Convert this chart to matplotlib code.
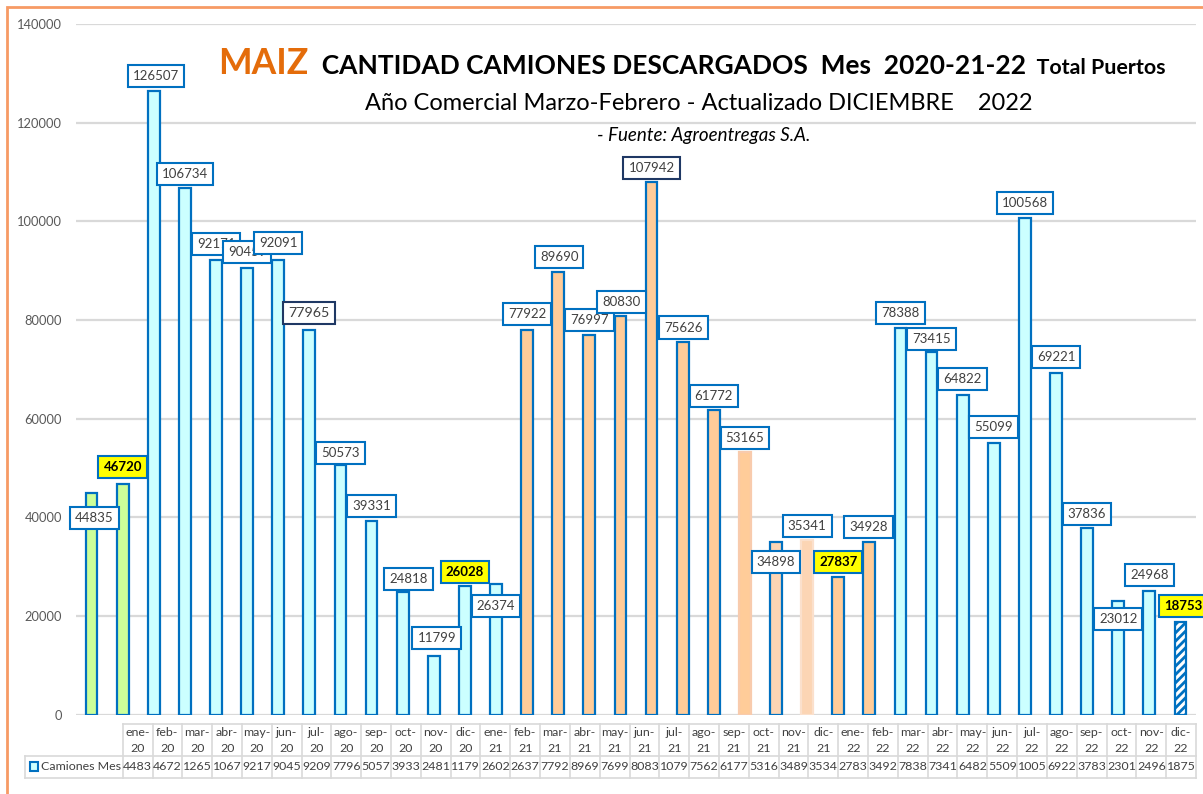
import matplotlib
matplotlib.use("Agg")
import matplotlib.pyplot as plt
from matplotlib.patches import Rectangle
from matplotlib.lines import Line2D
from matplotlib.offsetbox import TextArea, HPacker, AnnotationBbox

plt.rcParams['font.family'] = ['Lato', 'DejaVu Sans']
plt.rcParams['hatch.linewidth'] = 2.0

# ---------------- data ----------------
months = ["ene-20", "feb-20", "mar-20", "abr-20", "may-20", "jun-20", "jul-20", "ago-20", "sep-20",
          "oct-20", "nov-20", "dic-20", "ene-21", "feb-21", "mar-21", "abr-21", "may-21", "jun-21",
          "jul-21", "ago-21", "sep-21", "oct-21", "nov-21", "dic-21", "ene-22", "feb-22", "mar-22",
          "abr-22", "may-22", "jun-22", "jul-22", "ago-22", "sep-22", "oct-22", "nov-22", "dic-22"]
camiones = [44835, 46720, 126507, 106734, 92171, 90459, 92091, 77965, 50573, 39331, 24818, 11799,
            26028, 26374, 77922, 89690, 76997, 80830, 107942, 75626, 61772, 53165, 34898, 35341,
            27837, 34928, 78388, 73415, 64822, 55099, 100568, 69221, 37836, 23012, 24968, 18753]
# values shown in the data table (truncated as in the original)
table_vals = ["4483", "4672", "1265", "1067", "9217", "9045", "9209", "7796", "5057", "3933", "2481",
              "1179", "2602", "2637", "7792", "8969", "7699", "8083", "1079", "7562", "6177", "5316",
              "3489", "3534", "2783", "3492", "7838", "7341", "6482", "5509", "1005", "6922", "3783",
              "2301", "2496", "1875"]
series_name = "Camiones Mes"
yticks = [0, 20000, 40000, 60000, 80000, 100000, 120000, 140000]

# ---------------- styles ----------------
BLUE = '#0070C0'
CYAN = '#CCFFFF'
GREEN = '#CCFF99'
ORANGE = '#FFCC99'
LORANGE = '#FCD5B4'
fills = [GREEN, GREEN] + [CYAN] * 12 + [ORANGE] * 7 + [ORANGE, LORANGE, LORANGE, ORANGE, ORANGE] + [CYAN] * 9 + ['white']
edges = [BLUE] * 21 + ['#F8CBAD', BLUE, '#FBE0CC', BLUE, BLUE] + [BLUE] * 10
hatches = [None] * 35 + ['////']

# label offsets (pixels) relative to bar top
lab_dx = [3, 0, 2, 0, 0, 0, 0, 0, 0, 0, 6, 3, 0, 0, 0, 1, 0, 1, 0, 1, 0, 0, 0, 0, 0, -1, 0, 0, 0, 0, 0, 0, 0, 0, 0, 3]
lab_dy = [-25, 17, 15, 14, 16, 16, 17, 17, 12, 15, 13, 18, 14, -22, 16, 15, 15, 14, 14, 14, 14, 14, -20, 14, 15, 15,
          15, 13, 16, 16, 15, 16, 14, -18, 16, 16]
yellow_idx = {1, 12, 24, 35}
navy_idx = {7, 18}
big_idx = {7}

W, H = 1203, 794
fig = plt.figure(figsize=(W / 100, H / 100), dpi=100)
ax = fig.add_axes([76 / W, 1 - 714.5 / H, (1196 - 76) / W, (714.5 - 24) / H])

x = list(range(len(camiones)))
bars = ax.bar(x, camiones, width=0.38, color=fills, edgecolor=edges, linewidth=1.6, zorder=3)
for b, h in zip(bars, hatches):
    if h:
        b.set_hatch(h)

ax.set_xlim(-0.5, len(camiones) - 0.5)
ax.set_ylim(0, 140000)
ax.set_yticks(yticks)
ax.set_yticklabels([str(v) for v in yticks], fontsize=9.3, color='#595959')
ax.tick_params(axis='y', length=0, pad=10)
ax.set_xticks([])
for s in ax.spines.values():
    s.set_visible(False)
ax.grid(axis='y', color='#D9D9D9', linewidth=1.6, zorder=0)
ax.set_axisbelow(True)

for i, v in enumerate(camiones):
    if i in yellow_idx:
        fc, tc, fw = '#FFFF00', 'black', 'bold'
    else:
        fc, tc, fw = 'white', '#404040', 'normal'
    ec = '#1F3864' if i in navy_idx else BLUE
    fs = 10.3 if i in big_idx else 9.5
    ax.annotate(str(v), xy=(i, v), xytext=(lab_dx[i], lab_dy[i]), textcoords='offset pixels',
                ha='center', va='center', fontsize=fs, color=tc, fontweight=fw, zorder=5,
                bbox=dict(boxstyle='square,pad=0.38', fc=fc, ec=ec, lw=1.5))

# ---------------- titles ----------------
t1 = TextArea("MAIZ", textprops=dict(color='#E46C0A', fontsize=25.6, fontweight='bold'))
t2 = TextArea("  CANTIDAD CAMIONES DESCARGADOS  Mes  2020-21-22",
              textprops=dict(color='black', fontsize=19, fontweight='bold'))
t3 = TextArea("  Total Puertos", textprops=dict(color='black', fontsize=15.4, fontweight='bold'))
pack = HPacker(children=[t1, t2, t3], align='baseline', pad=0, sep=0)
ab = AnnotationBbox(pack, (692 / W, 1 - 64 / H), xycoords='figure fraction', frameon=False,
                    box_alignment=(0.5, 0.5))
fig.add_artist(ab)
fig.text(699 / W, 1 - 103 / H, "Año Comercial Marzo-Febrero - Actualizado DICIEMBRE    2022",
         ha='center', va='center', fontsize=17, color='black')
fig.text(704 / W, 1 - 135 / H, "- Fuente: Agroentregas S.A.", ha='center', va='center',
         fontsize=13.5, style='italic', color='black')

# ---------------- data table ----------------
GRID = '#D9D9D9'
TXT = '#404040'
n = len(months)
tx0, tx1 = 122.7, 1196.0
hx0 = 25.0
ry0, ry1, ry2 = 724.0, 756.0, 778.0
cw = (tx1 - tx0) / n


def fx(px):
    return px / W


def fy(py):
    return 1 - py / H


def hline(x0, x1, y):
    fig.add_artist(Line2D([fx(x0), fx(x1)], [fy(y), fy(y)], color=GRID, lw=1.2))


def vline(xp, y0, y1):
    fig.add_artist(Line2D([fx(xp), fx(xp)], [fy(y0), fy(y1)], color=GRID, lw=1.2))


hline(tx0, tx1, ry0)
hline(hx0, tx1, ry1)
hline(hx0, tx1, ry2)
vline(hx0, ry1, ry2)
for k in range(n + 1):
    vline(tx0 + k * cw, ry0, ry2)
for k, (m, tv) in enumerate(zip(months, table_vals)):
    cx = tx0 + (k + 0.5) * cw
    a, b = m.split('-')
    fig.text(fx(cx), fy(ry0 + 9), a + '-', ha='center', va='center', fontsize=8.9, color=TXT)
    fig.text(fx(cx), fy(ry0 + 24), b, ha='center', va='center', fontsize=8.9, color=TXT)
    fig.text(fx(cx), fy((ry1 + ry2) / 2), tv, ha='center', va='center', fontsize=8.9, color=TXT)
fig.add_artist(Rectangle((fx(30), fy(771)), 8 / W, 9 / H, fc=CYAN, ec=BLUE, lw=1.5,
                         transform=fig.transFigure))
fig.text(fx(41), fy((ry1 + ry2) / 2), series_name, ha='left', va='center', fontsize=8.9, color=TXT)

# outer orange frame
fig.add_artist(Rectangle((fx(7), fy(H + 20)), (W + 20) / W, (H + 20 - 7) / H, fill=False,
                         ec='#F79A65', lw=2, transform=fig.transFigure))

fig.savefig("out.png", dpi=100)
